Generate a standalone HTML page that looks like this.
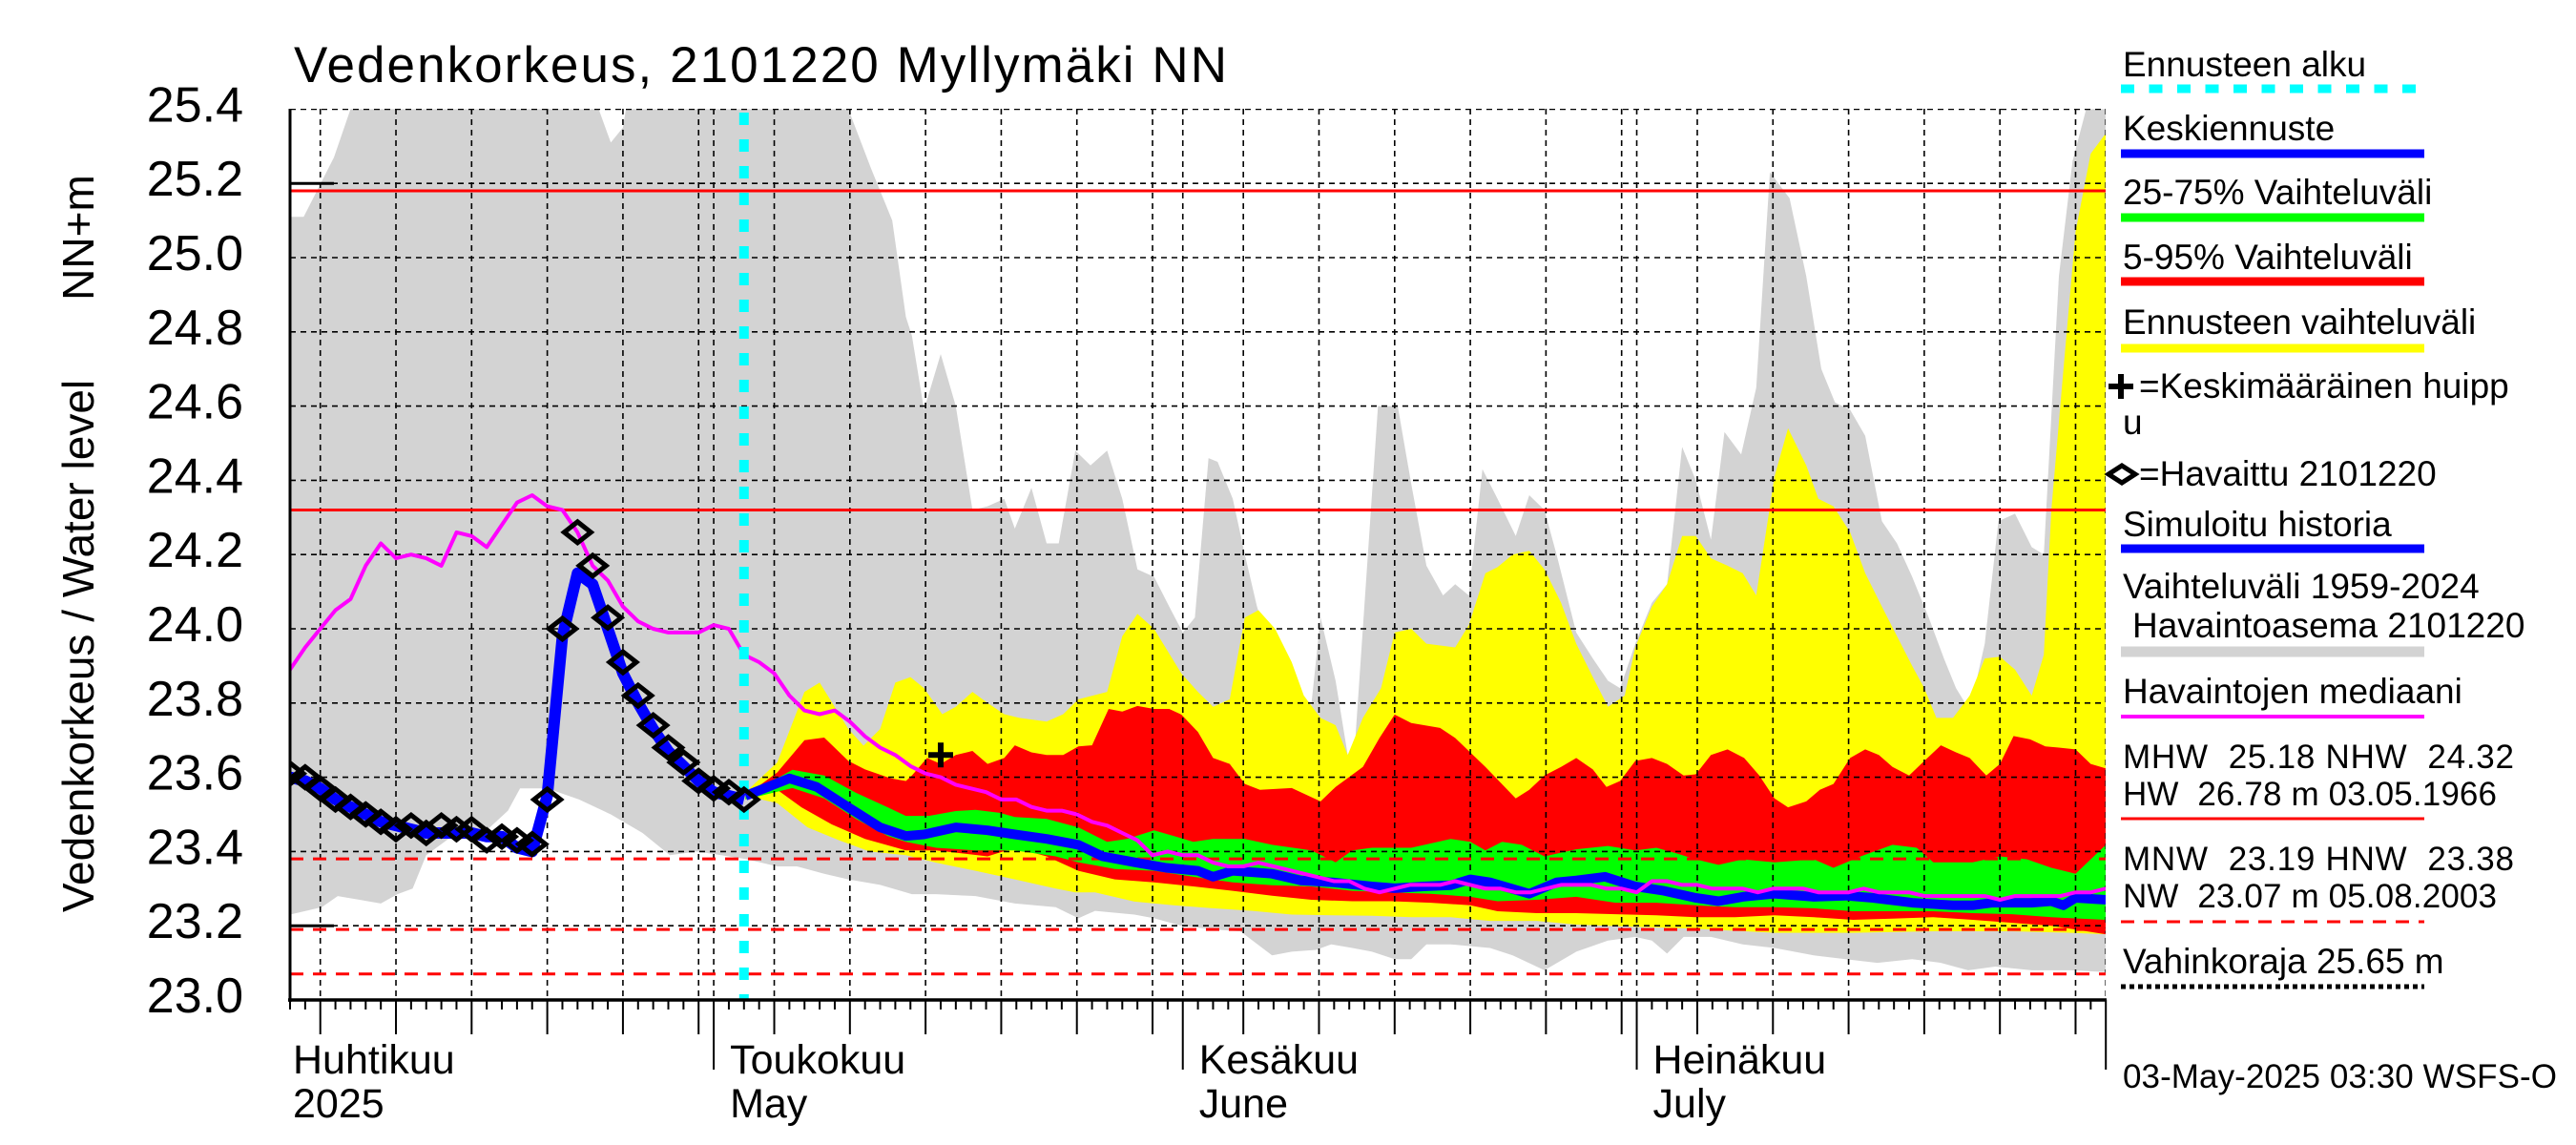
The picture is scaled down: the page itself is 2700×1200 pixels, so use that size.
<!DOCTYPE html>
<html><head><meta charset="utf-8"><title>Vedenkorkeus 2101220 Myllymäki NN</title>
<style>
html,body{margin:0;padding:0;background:#fff;}
svg{display:block;font-family:"Liberation Sans",Arial,sans-serif;}
</style></head>
<body>
<svg id="chart" xmlns="http://www.w3.org/2000/svg" width="2700" height="1200" viewBox="0 0 2700 1200">
<rect x="0" y="0" width="2700" height="1200" fill="#fff"/>
<defs><clipPath id="plotclip"><rect x="304" y="114" width="1903" height="934"/></clipPath></defs>
<text x="308" y="86" font-size="53" textLength="978" lengthAdjust="spacing" fill="#000">Vedenkorkeus, 2101220 Myllymäki NN</text>
<g id="plot" clip-path="url(#plotclip)"></g>
<g id="axes"></g>
<text transform="translate(98,677) rotate(-90)" text-anchor="middle" font-size="46">Vedenkorkeus / Water level</text>
<text transform="translate(98,249) rotate(-90)" text-anchor="middle" font-size="46">NN+m</text>
<g id="legend" font-size="37">
  <text x="2225" y="80">Ennusteen alku</text>
  <line x1="2223" y1="93" x2="2541" y2="93" stroke="#00ffff" stroke-width="9" stroke-dasharray="14,15.5"/>
  <text x="2225" y="147">Keskiennuste</text>
  <line x1="2223" y1="161" x2="2541" y2="161" stroke="#0000ff" stroke-width="9"/>
  <text x="2225" y="214">25-75% Vaihteluväli</text>
  <line x1="2223" y1="228" x2="2541" y2="228" stroke="#00ff00" stroke-width="9"/>
  <text x="2225" y="282">5-95% Vaihteluväli</text>
  <line x1="2223" y1="295" x2="2541" y2="295" stroke="#ff0000" stroke-width="9"/>
  <text x="2225" y="350">Ennusteen vaihteluväli</text>
  <line x1="2223" y1="365" x2="2541" y2="365" stroke="#ffff00" stroke-width="9"/>
  <path d="M2210 405 H2236 M2223 392 V418" stroke="#000" stroke-width="6"/>
  <text x="2242" y="417">=Keskimääräinen huipp</text>
  <text x="2225" y="455">u</text>
  <path d="M2210 497 L2224 488 L2238 497 L2224 506 Z" fill="none" stroke="#000" stroke-width="5"/>
  <text x="2242" y="509">=Havaittu 2101220</text>
  <text x="2225" y="562">Simuloitu historia</text>
  <line x1="2223" y1="575" x2="2541" y2="575" stroke="#0000ff" stroke-width="9"/>
  <text x="2225" y="627">Vaihteluväli 1959-2024</text>
  <text x="2235" y="668">Havaintoasema 2101220</text>
  <line x1="2223" y1="683" x2="2541" y2="683" stroke="#d3d3d3" stroke-width="11"/>
  <text x="2225" y="737">Havaintojen mediaani</text>
  <line x1="2223" y1="751" x2="2541" y2="751" stroke="#ff00ff" stroke-width="4"/>
  <text x="2225" y="805" font-size="35" textLength="410" xml:space="preserve">MHW  25.18 NHW  24.32</text>
  <text x="2225" y="844" font-size="35" textLength="392" xml:space="preserve">HW  26.78 m 03.05.1966</text>
  <line x1="2223" y1="858" x2="2541" y2="858" stroke="#ff0000" stroke-width="3"/>
  <text x="2225" y="912" font-size="35" textLength="410" xml:space="preserve">MNW  23.19 HNW  23.38</text>
  <text x="2225" y="951" font-size="35" textLength="392" xml:space="preserve">NW  23.07 m 05.08.2003</text>
  <line x1="2223" y1="966" x2="2541" y2="966" stroke="#ff0000" stroke-width="3" stroke-dasharray="14,10"/>
  <text x="2225" y="1020">Vahinkoraja 25.65 m</text>
  <line x1="2223" y1="1034" x2="2541" y2="1034" stroke="#000" stroke-width="5" stroke-dasharray="5,4"/>
  <text x="2225" y="1140" font-size="35" textLength="455">03-May-2025 03:30 WSFS-O</text>
</g>
</svg>
<script>
// ---- data (day index: 0 = 1 April 2025) ----
const yTicks = [23.0,23.2,23.4,23.6,23.8,24.0,24.2,24.4,24.6,24.8,25.0,25.2,25.4];
const monthStarts = [0,30,61,91,122];
const monthLabels = ["Huhtikuu","Toukokuu","Kesäkuu","Heinäkuu"];
const monthLabels2 = ["2025","May","June","July"];
const forecastStartDay = 32;
const refSolid = [25.18,24.32];
const refDashed = [23.38,23.19,23.07];
const peakDay = 45.0, peakVal = 23.66;

const obsVals = [23.61,23.60,23.57,23.54,23.52,23.50,23.48,23.46,23.47,23.45,23.47,23.46,23.46,23.43,23.44,23.43,23.42,23.54,24.00,24.26,24.17,24.03,23.91,23.82,23.74,23.68,23.64,23.59,23.57,23.56,23.54];
const simVals = [23.60,23.59,23.57,23.54,23.52,23.50,23.48,23.47,23.46,23.45,23.45,23.45,23.45,23.44,23.44,23.41,23.40,23.55,23.98,24.15,24.12,24.00,23.88,23.80,23.73,23.67,23.63,23.59,23.56,23.55,23.54];
const medianVals = [23.89,23.95,24.00,24.05,24.08,24.17,24.23,24.19,24.20,24.19,24.17,24.26,24.25,24.22,24.28,24.34,24.36,24.33,24.32,24.26,24.17,24.13,24.06,24.02,24.00,23.99,23.99,23.99,24.01,24.00,23.93,23.91,23.88,23.82,23.78,23.77,23.78,23.75,23.71,23.68,23.66,
23.63,23.61,23.60,23.58,23.57,23.56,23.54,23.54,23.52,23.51,23.51,23.50,23.48,23.47,23.45,23.43,23.39,23.40,23.39,23.39,23.37,23.36,23.36,23.37,23.36,23.35,23.34,23.33,23.32,23.32,23.30,23.29,23.30,23.31,23.31,23.31,23.32,23.31,23.30,23.30,23.29,
23.29,23.30,23.31,23.31,23.31,23.30,23.30,23.29,23.32,23.32,23.31,23.31,23.30,23.30,23.30,23.29,23.30,23.30,23.30,23.29,23.29,23.29,23.30,23.29,23.29,23.29,23.28,23.28,23.28,23.28,23.28,23.27,23.28,23.28,23.28,23.28,23.29,23.29,23.30];

const greyMaxDays = [2,2.9,4.9,6,22.4,23.2,24,24.2,38.9,40.4,41.8,42.7,43.1,43.9,45,46,47.1,48.1,49.2,49.9,51,52,52.8,53.9,54.9,56,57,58,59.1,60.1,61,61.8,62.7,63.3,64.3,65.1,65.9,66.9,68,68.9,69.4,70.1,71.1,71.9,72.4,73.9,75.2,76.1,77.1,78.2,79,79.9,80.8,81.8,83,83.9,84.9,85.7,87,88.1,89.1,89.9,90.9,92,93,94,94.9,95.9,96.8,97.9,98.9,99.8,101.1,102.2,103.2,104.1,105.1,106.1,107.2,108.2,109.2,110.3,111.3,112.1,113,114,114.9,116,117.1,117.9,118.9,119.8,120.7,122];
const greyMaxVals = [25.11,25.11,25.27,25.40,25.40,25.31,25.35,25.40,25.40,25.24,25.10,24.84,24.79,24.59,24.74,24.60,24.32,24.33,24.35,24.27,24.38,24.23,24.23,24.48,24.44,24.48,24.35,24.16,24.14,24.06,23.99,24.03,24.46,24.45,24.35,24.20,24.06,23.93,23.81,23.75,23.76,24.03,23.86,23.66,23.70,24.60,24.60,24.39,24.17,24.09,24.12,24.09,24.43,24.35,24.25,24.36,24.32,24.20,23.99,23.92,23.86,23.84,23.96,24.07,24.12,24.49,24.40,24.24,24.53,24.47,24.65,25.23,25.16,24.95,24.70,24.61,24.59,24.52,24.29,24.23,24.14,24.03,23.92,23.84,23.78,23.96,24.29,24.31,24.22,24.20,24.95,25.26,25.40,25.40];
const greyMinDays = [2,4.1,5.15,8,9.1,10.1,11,13,14.8,16.4,17.2,19,21.1,23.2,25.3,27.1,28.9,30.5,32.1,34.2,35.5,37.3,38.9,41,42.7,43.1,44.7,47.3,49.9,52.6,54.1,55.2,57.8,59.1,60.9,63,64.8,66.9,68.2,69.8,70.8,72.2,73.5,75,76.1,77.1,78.7,81.3,82.8,84.9,87,89.1,90.9,92,93,94.1,95.9,98,100.1,102.7,104.8,106.9,109.2,111.1,112.9,114.7,117.1,119.7,122];
const greyMinVals = [23.23,23.25,23.28,23.26,23.285,23.30,23.39,23.45,23.45,23.51,23.57,23.57,23.54,23.50,23.45,23.39,23.40,23.39,23.38,23.36,23.36,23.34,23.325,23.31,23.29,23.285,23.285,23.28,23.26,23.25,23.22,23.24,23.23,23.22,23.20,23.19,23.185,23.12,23.13,23.135,23.15,23.14,23.13,23.11,23.11,23.15,23.15,23.14,23.12,23.08,23.13,23.16,23.17,23.16,23.125,23.17,23.17,23.15,23.14,23.12,23.11,23.10,23.11,23.10,23.08,23.09,23.08,23.08,23.075];

const yelTopDays = [32.1,34.2,36,37,38.9,39.9,41,42,43,43.9,45.1,46,47.1,48.1,49.2,50.2,52,53.1,54.1,56,57,58,59.1,60.9,62,63,64.1,65.1,66,67.1,68.2,69,70.1,71.1,71.9,72.9,74.1,75,76.1,77.1,79,79.9,81,81.8,82.8,83.9,84.9,86,87,88.1,89.1,90.2,90.9,92,93,94,94.9,95.9,97,98,98.9,100.1,101,102.2,103,104,105.1,106.1,107.2,108.2,109.2,110,110.8,111.9,113,114,115,116,117.1,117.9,118.4,119.2,120,121,122];
const yelTopVals = [23.56,23.64,23.83,23.855,23.73,23.685,23.73,23.855,23.87,23.84,23.77,23.79,23.83,23.80,23.77,23.76,23.75,23.77,23.81,23.83,23.98,24.04,24.00,23.88,23.83,23.79,23.81,24.03,24.05,24.00,23.91,23.82,23.76,23.74,23.66,23.76,23.84,23.99,24.00,23.96,23.95,24.01,24.15,24.166,24.20,24.21,24.16,24.07,23.96,23.87,23.79,23.82,23.95,24.06,24.12,24.25,24.25,24.19,24.17,24.15,24.09,24.41,24.54,24.44,24.35,24.33,24.26,24.15,24.06,23.98,23.90,23.84,23.76,23.76,23.82,23.92,23.925,23.89,23.82,23.93,24.32,24.70,25.07,25.28,25.335];
const yelBotDays = [32.1,34.2,36.2,38.3,40.3,42.7,44.7,47.3,49.9,52.6,53.9,55.2,57.8,60.4,63,65.6,68.2,70.9,73.5,76.1,78.7,81.3,84.4,87,91,94.9,100.1,105.3,110.6,115.8,119.7,122];
const yelBotVals = [23.55,23.53,23.465,23.43,23.40,23.39,23.37,23.348,23.325,23.30,23.29,23.29,23.265,23.255,23.247,23.24,23.23,23.228,23.227,23.223,23.223,23.213,23.213,23.203,23.197,23.192,23.181,23.181,23.185,23.185,23.181,23.177];

const redTopDays = [32.1,34.2,36,37.3,38.9,40,41.7,42.7,43.1,44.1,45,46,47.1,48.1,49.2,49.9,51,52,53.1,54.1,55,56.1,57,58,59.1,60.1,60.9,62,63,64.1,65.1,66.1,68.2,70.1,71.1,72.9,74,75,76.1,78,79,81,83,83.9,84.9,86,87,88.1,89,89.9,90.9,92,93,94.1,94.9,95.9,97,98.1,99.1,100.1,101,102.2,103.1,104,105.1,106.1,107,107.9,109,110,111.1,112.1,113,114.1,115,115.9,117,118,118.9,120,121,122];
const redTopVals = [23.55,23.613,23.70,23.707,23.644,23.621,23.597,23.59,23.605,23.652,23.636,23.66,23.671,23.636,23.652,23.686,23.667,23.66,23.66,23.683,23.686,23.784,23.777,23.792,23.784,23.784,23.769,23.722,23.652,23.636,23.582,23.566,23.571,23.535,23.574,23.628,23.706,23.769,23.746,23.733,23.706,23.628,23.543,23.566,23.605,23.628,23.652,23.621,23.574,23.59,23.644,23.652,23.636,23.605,23.608,23.66,23.675,23.652,23.605,23.543,23.519,23.535,23.566,23.582,23.652,23.675,23.66,23.628,23.605,23.644,23.686,23.667,23.652,23.605,23.636,23.711,23.702,23.683,23.68,23.675,23.636,23.624];
const redBotDays = [32.1,34.2,35.8,37.8,40,42.7,44.7,48.1,49.9,52,54.1,56.5,59.1,61.7,64.3,66.9,69.5,72.2,74.8,77.4,80,81.8,84.4,87,89.6,92.3,94.9,97.5,100.1,102.7,105.3,107.9,110.6,113.2,115.8,118.4,122];
const redBotVals = [23.54,23.566,23.519,23.473,23.434,23.403,23.403,23.387,23.41,23.387,23.348,23.325,23.317,23.306,23.294,23.281,23.27,23.266,23.266,23.262,23.255,23.239,23.234,23.234,23.231,23.228,23.223,23.223,23.228,23.223,23.216,23.219,23.223,23.216,23.208,23.20,23.177];

const grnTopDays = [32.1,35.2,37.3,39.4,41.5,42.7,44.2,46,47.3,48.9,49.9,52,54.1,56,57.3,59.1,60.4,61.7,63,65.1,66.9,69.5,71.1,72.2,73.5,76.1,78.7,80,81,82.1,83.4,84.9,87,89.1,90.9,92.3,93.6,94.9,96.4,98,100.1,102.7,104,105.8,107.9,109.5,110.6,113.2,115,116.8,118.4,120,122];
const grnTopVals = [23.55,23.62,23.605,23.558,23.519,23.496,23.496,23.509,23.512,23.504,23.493,23.488,23.465,23.426,23.434,23.457,23.442,23.426,23.434,23.434,23.418,23.403,23.371,23.403,23.41,23.41,23.434,23.426,23.403,23.426,23.418,23.387,23.406,23.415,23.403,23.41,23.395,23.379,23.364,23.379,23.371,23.379,23.356,23.387,23.418,23.41,23.371,23.371,23.387,23.379,23.356,23.34,23.418];
const grnBotDays = [32.1,35.2,37.3,39.4,41.5,42.7,44.7,47.3,49.9,52.6,54.1,56.5,59.1,61.7,64.3,66.9,69.5,72.2,74.8,77.4,80,81.8,84.4,87,89.6,92.3,94.9,97.5,100.1,102.7,105.3,107.9,110.6,113.2,115.8,118.4,122];
const grnBotVals = [23.54,23.571,23.543,23.488,23.442,23.426,23.41,23.403,23.403,23.387,23.371,23.353,23.348,23.332,23.317,23.309,23.306,23.294,23.29,23.286,23.278,23.266,23.27,23.278,23.262,23.262,23.255,23.25,23.25,23.247,23.239,23.239,23.239,23.234,23.231,23.223,23.216];

const meanDays = [32.1,35,36.8,38.9,41,42.7,43.9,46,48.1,49.9,52,54.1,55.7,57.8,59.9,62,63,64.3,66.9,68.8,70.9,73.5,75,76.9,78.7,80,81.3,83.9,85.7,87,88.9,90.9,92.8,94.9,96.4,98,100.1,102.7,104.8,106.6,109.2,111.9,113.2,114.5,117.1,118.4,119.2,120,122];
const meanVals = [23.55,23.597,23.574,23.519,23.465,23.442,23.446,23.465,23.457,23.446,23.434,23.418,23.387,23.371,23.356,23.348,23.332,23.348,23.34,23.322,23.317,23.306,23.301,23.306,23.309,23.325,23.317,23.286,23.317,23.322,23.332,23.306,23.294,23.275,23.266,23.278,23.286,23.278,23.281,23.275,23.262,23.255,23.255,23.262,23.262,23.266,23.255,23.275,23.27];

// ---- scales ----
const X = d => 304 + (d - 2) * 15.86;
const Y = v => 1048 - (v - 23) * 389;
const NS = "http://www.w3.org/2000/svg";
const plot = document.getElementById('plot');
const axes = document.getElementById('axes');
function mk(tag, attrs, parent){ const e=document.createElementNS(NS,tag); for(const k in attrs) e.setAttribute(k,attrs[k]); parent.appendChild(e); return e; }
function seq(start, vals){ return vals.map((v,i)=>[X(start+i),Y(v)]); }
function pairs(days, vals){ return days.map((d,i)=>[X(d),Y(vals[i])]); }
function pathOf(pts){ return pts.map((p,i)=>(i?'L':'M')+p[0].toFixed(1)+' '+p[1].toFixed(1)).join(' '); }
function band(td,tv,bd,bv,color,name){
  const pts = pairs(td,tv).concat(pairs(bd,bv).reverse());
  const e = mk('path',{d:pathOf(pts)+' Z',fill:color,stroke:'none'},plot);
  
  
  return e;
}

band(greyMaxDays,greyMaxVals,greyMinDays,greyMinVals,'#d3d3d3','historical-range-band');
band(yelTopDays,yelTopVals,yelBotDays,yelBotVals,'#ffff00','forecast-range-band');
band(redTopDays,redTopVals,redBotDays,redBotVals,'#ff0000','band-5-95');
band(grnTopDays,grnTopVals,grnBotDays,grnBotVals,'#00ff00','band-25-75');

// grid
for (const v of yTicks) {
  if (v <= 23.0) continue;
  const g = mk('line',{x1:304,x2:2207,y1:Y(v),y2:Y(v),stroke:'#000','stroke-width':1.6,'stroke-dasharray':'6,5'},plot);
  
  
}
const gridDays = [];
for (let m=0;m<monthStarts.length;m++){
  for (const off of [0,4,9,14,19,24,29]) {
    const d = monthStarts[m]+off;
    if (m<monthStarts.length-1 && d>=monthStarts[m+1]) continue;
    if (d>=2 && d<=122) gridDays.push(d);
  }
}
for (const d of gridDays) {
  const g = mk('line',{x1:X(d),x2:X(d),y1:114,y2:1048,stroke:'#000','stroke-width':1.6,'stroke-dasharray':'6,5'},plot);
  
  
}

// reference lines
for (const v of refSolid) {
  const r = mk('line',{x1:304,x2:2207,y1:Y(v),y2:Y(v),stroke:'#ff0000','stroke-width':3},plot);
  
  
}
for (const v of refDashed) {
  const r = mk('line',{x1:304,x2:2207,y1:Y(v),y2:Y(v),stroke:'#ff0000','stroke-width':3,'stroke-dasharray':'14,10'},plot);
  
  
}

// mean forecast line
const mean = mk('path',{d:pathOf(pairs(meanDays,meanVals)),fill:'none',stroke:'#0000ff','stroke-width':10,'stroke-linejoin':'round'},plot);


// simulated history
const sim = mk('path',{d:pathOf(seq(2,simVals)),fill:'none',stroke:'#0000ff','stroke-width':12,'stroke-linejoin':'round'},plot);


// median
const med = mk('path',{d:pathOf(seq(2,medianVals)),fill:'none',stroke:'#ff00ff','stroke-width':4,'stroke-linejoin':'round'},plot);


// forecast start
const fs = mk('line',{x1:X(forecastStartDay),x2:X(forecastStartDay),y1:118,y2:1048,stroke:'#00ffff','stroke-width':10,'stroke-dasharray':'13,15'},plot);


// observed diamonds
obsVals.forEach((v,i)=>{
  const x=X(2+i), y=Y(v);
  const dm = mk('path',{d:`M${x-14} ${y} L${x} ${y-11} L${x+14} ${y} L${x} ${y+11} Z`,fill:'none',stroke:'#000','stroke-width':5},plot);
  
  
});
// mean peak marker
const pk = mk('path',{d:`M${X(peakDay)-13} ${Y(peakVal)} H${X(peakDay)+13} M${X(peakDay)} ${Y(peakVal)-13} V${Y(peakVal)+13}`,stroke:'#000','stroke-width':6},plot);



// axes
const la = mk('line',{x1:304,x2:304,y1:114,y2:1050,stroke:'#000','stroke-width':3},axes);


const ba = mk('line',{x1:302,x2:2208,y1:1048,y2:1048,stroke:'#000','stroke-width':3.5},axes);


for (const v of [23.2,25.2]) {
  const t = mk('line',{x1:304,x2:350,y1:Y(v),y2:Y(v),stroke:'#000','stroke-width':3},axes);
  
  
}
for (const v of yTicks) {
  const t = mk('text',{x:255,y:Y(v)+13,'text-anchor':'end','font-size':52},axes);
  t.textContent = v.toFixed(1);
  
  
}
for (let d=2; d<=122; d++) {
  let len = 10;
  if (gridDays.includes(d)) len = 36;
  if (monthStarts.includes(d)) len = 73;
  const t = mk('line',{x1:X(d),x2:X(d),y1:1048,y2:1048+len,stroke:'#000','stroke-width':2},axes);
  
  
}
for (let m=0;m<monthLabels.length;m++){
  const x = m===0 ? 307 : X(monthStarts[m])+17;
  const t1 = mk('text',{x:x,y:1125,'font-size':43},axes);
  t1.textContent = monthLabels[m];
  
  
  const t2 = mk('text',{x:x,y:1171,'font-size':43},axes);
  t2.textContent = monthLabels2[m];
  
  
}
</script>
</body></html>
